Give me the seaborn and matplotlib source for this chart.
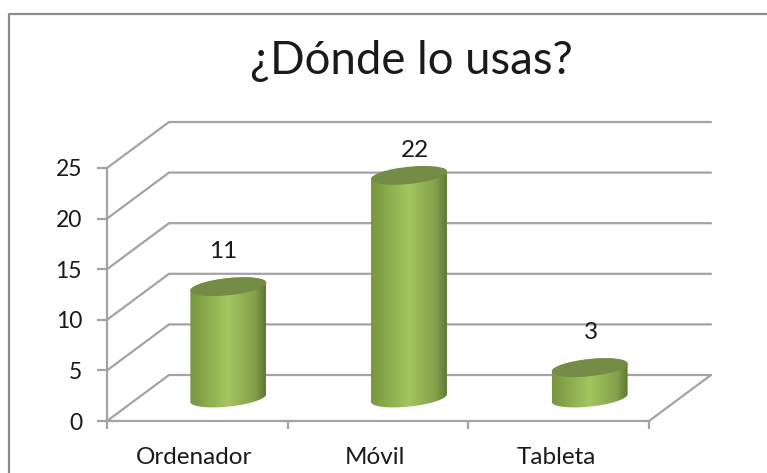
import matplotlib
matplotlib.use('Agg')
import matplotlib.pyplot as plt
from matplotlib.colors import LinearSegmentedColormap
from matplotlib.lines import Line2D
from matplotlib.patches import Polygon
import numpy as np
import pandas as pd
import seaborn as sns

categorias = ['Ordenador', 'Móvil', 'Tableta']
valores = [11, 22, 3]
y_ticks = [0, 5, 10, 15, 20, 25]

# offsets of the data labels, in points from the top of each cylinder
label_dx = [-4, 4, 1]
label_dy = [25, 18, 25]

sns.set_style('white')
plt.rcParams['font.family'] = ['Lato', 'DejaVu Sans']

W, H = 767, 473
GRIS = '#a3a3a3'
TEXTO = '#1a1a1a'

fig = plt.figure(figsize=(W / 100, H / 100), dpi=100)
ax = fig.add_axes([107 / W, (H - 421) / H, 542 / W, 253 / H])

df = pd.DataFrame({'categoria': categorias, 'valor': valores})
sns.barplot(data=df, x='categoria', y='valor', width=0.42, color='#9bbb59', ax=ax, zorder=3)

# depth of the fake 3d box, in data units
prof_x = 62 / (542 / 3)
prof_y = 46 / (253 / 25)

for v in y_ticks:
    ax.plot([-0.5, -0.5 + prof_x, 2.5 + prof_x], [v, v + prof_y, v + prof_y],
            color=GRIS, lw=1.6, clip_on=False, zorder=1, solid_joinstyle='miter')
ax.plot([2.5, 2.5 + prof_x], [0, prof_y], color=GRIS, lw=1.6, clip_on=False, zorder=1)

cuerpo = LinearSegmentedColormap.from_list(
    'cuerpo', [(0, '#78963f'), (0.5, '#a4c660'), (0.86, '#83a04a'), (1, '#5e7835')])
grad = np.linspace(0, 1, 256).reshape(1, -1)
t_alto = np.linspace(0, np.pi, 100)
t_bajo = np.linspace(np.pi, 2 * np.pi, 100)

for i, p in enumerate(ax.patches):
    # cylinders stand in the middle of the floor
    ancho = p.get_width()
    alto = p.get_height()
    cx = p.get_x() + ancho / 2 + prof_x / 2
    base = prof_y / 2
    a = ancho / 2
    b = 0.85
    s = 0.38
    p.set_visible(False)

    x_bajo = cx + a * np.cos(t_bajo)
    y_bajo = base + b * np.sin(t_bajo) + s * np.cos(t_bajo)
    x_alto = cx + a * np.cos(t_alto)
    y_alto = base + alto + b * np.sin(t_alto) + s * np.cos(t_alto)

    clip = Polygon(np.column_stack([np.r_[x_bajo, x_alto], np.r_[y_bajo, y_alto]]),
                   closed=True, transform=ax.transData, facecolor='none', edgecolor='none')
    ax.add_patch(clip)
    img = ax.imshow(grad, cmap=cuerpo, aspect='auto', zorder=3,
                    extent=[cx - a, cx + a, base - 2, base + alto + 2])
    img.set_clip_path(clip)

    # lid of the cylinder
    x_tapa = np.r_[x_alto, cx + a * np.cos(t_bajo)]
    y_tapa = np.r_[y_alto, base + alto + b * np.sin(t_bajo) + s * np.cos(t_bajo)]
    ax.fill(x_tapa, y_tapa, color='#748c45', lw=0, zorder=4, clip_on=False)

    ax.annotate(str(valores[i]), xy=(cx, base + alto), xytext=(label_dx[i], label_dy[i]),
                textcoords='offset points', ha='center', va='center',
                fontsize=17.5, color=TEXTO, zorder=5)

ax.set_xlim(-0.5, 2.5)
ax.set_ylim(0, 25)
ax.set_xlabel('')
ax.set_ylabel('')
ax.set_yticks(y_ticks)
ax.set_xticks([-0.5, 0.5, 1.5, 2.5])
ax.set_xticklabels([])
ax.tick_params(axis='y', length=7, width=1.6, color=GRIS, labelsize=16.5, labelcolor=TEXTO, pad=11, left=True)
ax.tick_params(axis='x', length=6, width=1.6, color=GRIS, bottom=True)
for i, c in enumerate(categorias):
    ax.annotate(c, xy=(i, 0), xytext=(-2, -26), textcoords='offset points',
                ha='center', va='center', fontsize=17.5, color=TEXTO, annotation_clip=False)
for lado in ['top', 'right']:
    ax.spines[lado].set_visible(False)
for lado in ['left', 'bottom']:
    ax.spines[lado].set_color(GRIS)
    ax.spines[lado].set_linewidth(1.6)
ax.patch.set_alpha(0)

fig.text(411 / W, (H - 61) / H, '¿Dónde lo usas?', ha='center', va='center', fontsize=32.8, color=TEXTO)

# chart frame, the picture cuts it off at the bottom and on the right
marco_x = [9 / W, 9 / W, 1]
marco_y = [0, (H - 14) / H, (H - 14) / H]
fig.add_artist(Line2D(marco_x, marco_y, color='#8c8c8c', lw=1.6))

fig.savefig('out.png', dpi=100)
